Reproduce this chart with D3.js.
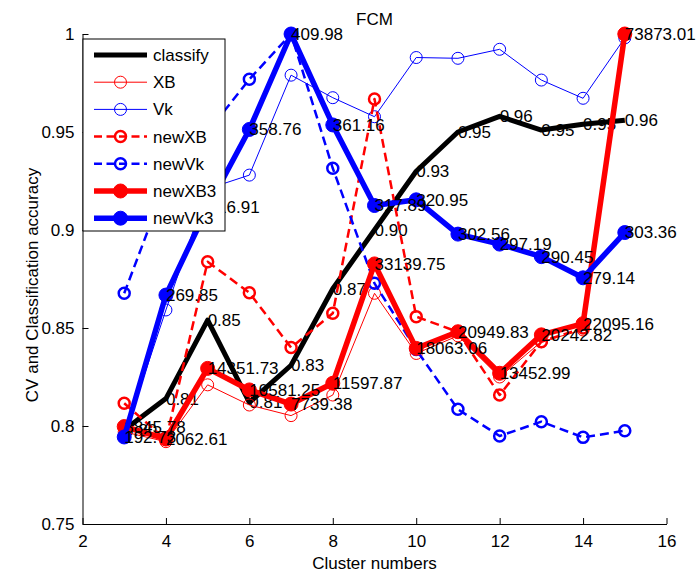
<!DOCTYPE html>
<html>
<head>
<meta charset="utf-8">
<script src="https://cdn.jsdelivr.net/npm/d3@7"></script>
<style>
  body { margin: 0; background: #fff; }
  text { font-family: "Liberation Sans", Arial, sans-serif; }
  .axis text { font-size: 17px; fill: #000; }
  .axis path, .axis line { stroke: #000; }
  .label { font-size: 17px; fill: #000; }
</style>
</head>
<body>
<div class="chart"></div>
<script>
var width = 696
var height = 573

var clusters = [3, 4, 5, 6, 7, 8, 9, 10, 11, 12, 13, 14, 15];

var classify = [0.798, 0.814, 0.854, 0.812, 0.831, 0.870, 0.900, 0.930, 0.950, 0.958, 0.951, 0.954, 0.956];
var classifyLabels = ["0.80", "0.81", "0.85", "0.81", "0.83", "0.87", "0.90", "0.93", "0.95", "0.96", "0.95", "0.95", "0.96"];

var xb = [0.797, 0.792, 0.821, 0.8107, 0.8053, 0.8158, 0.8677, 0.837, 0.846, 0.825, 0.843, 0.849, 1.0];
var vk = [0.795, 0.8592, 0.921, 0.928, 0.979, 0.9675, 0.9578, 0.988, 0.9876, 0.9922, 0.9765, 0.9672, 0.998];
var newXB = [0.8116, 0.793, 0.8838, 0.868, 0.840, 0.8575, 0.9668, 0.8558, 0.848, 0.8158, 0.843, 0.850, 1.0];
var newVk = [0.8677, 0.924, 0.95, 0.9769, 1.0, 0.9315, 0.8728, 0.839, 0.8085, 0.7949, 0.8022, 0.7942, 0.7976];

var newXB3 = [0.7997, 0.7935, 0.8294, 0.8184, 0.8112, 0.8218, 0.8827, 0.8396, 0.8481, 0.8269, 0.8465, 0.8522, 1.0];
var newXB3Labels = ["3845.78", "2062.61", "14351.73", "10581.25", "7739.38", "11597.87", "33139.75", "18063.06", "20949.83", "13452.99", "20242.82", "22095.16", "73873.01"];

var newVk3 = [0.7944, 0.8668, 0.9115, 0.9513, 1.0, 0.9536, 0.9125, 0.9154, 0.8979, 0.8928, 0.8864, 0.8756, 0.8987];
var newVk3Labels = ["192.73", "269.85", "316.91", "358.76", "409.98", "361.16", "317.89", "320.95", "302.56", "297.19", "290.45", "279.14", "303.36"];

var xTicks = [2, 4, 6, 8, 10, 12, 14, 16];
var yTicks = [0.75, 0.8, 0.85, 0.9, 0.95, 1];

// line styles, in the order they were plotted
var series = [
  { name: "classify", values: classify, color: "black", width: 5, dash: null, marker: "none", labels: classifyLabels },
  { name: "XB", values: xb, color: "red", width: 1, dash: null, marker: "open", r: 6, mw: 1 },
  { name: "Vk", values: vk, color: "blue", width: 1, dash: null, marker: "open", r: 6, mw: 1 },
  { name: "newXB", values: newXB, color: "red", width: 2.5, dash: "9,5", marker: "open", r: 5.5, mw: 2.5 },
  { name: "newVk", values: newVk, color: "blue", width: 2.5, dash: "9,5", marker: "open", r: 5.5, mw: 2.5 },
  { name: "newXB3", values: newXB3, color: "red", width: 5.5, dash: null, marker: "filled", r: 7, labels: newXB3Labels },
  { name: "newVk3", values: newVk3, color: "blue", width: 5.5, dash: null, marker: "filled", r: 7, labels: newVk3Labels }
];

var x = d3.scaleLinear().domain([2, 16]).range([82.5, 666.5]);
var y = d3.scaleLinear().domain([0.75, 1]).range([524, 34]);

var svg = d3.select(".chart").append("svg")
            .attr("width", width)
            .attr("height", height);

var xAxis = svg.append("g")
               .attr("class", "axis")
               .attr("transform", "translate(0," + y(0.75) + ")")
               .call(d3.axisBottom(x).tickValues(xTicks).tickSizeInner(-6).tickSizeOuter(0).tickPadding(11));

var yAxis = svg.append("g")
               .attr("class", "axis")
               .attr("transform", "translate(" + x(2) + ",0)")
               .call(d3.axisLeft(y).tickValues(yTicks).tickFormat(d3.format("~g")).tickSizeInner(-6).tickSizeOuter(0).tickPadding(8));

var line = d3.line()
             .x(function(d) { return x(d[0]); })
             .y(function(d) { return y(d[1]); });

series.forEach(function(s) {
  var pts = clusters.map(function(c, i) { return [c, s.values[i]]; });

  svg.append("path")
     .datum(pts)
     .attr("d", line)
     .attr("fill", "none")
     .attr("stroke", s.color)
     .attr("stroke-width", s.width)
     .attr("stroke-linejoin", "round")
     .attr("stroke-dasharray", s.dash);

  if (s.marker != "none") {
    svg.selectAll(null)
       .data(pts)
       .enter()
       .append("circle")
       .attr("cx", function(d) { return x(d[0]); })
       .attr("cy", function(d) { return y(d[1]); })
       .attr("r", s.r)
       .attr("fill", s.marker == "filled" ? s.color : "none")
       .attr("stroke", s.color)
       .attr("stroke-width", s.marker == "filled" ? 1 : s.mw);
  }

  if (s.labels) {
    svg.selectAll(null)
       .data(pts)
       .enter()
       .append("text")
       .attr("class", "label")
       .attr("x", function(d) { return x(d[0]); })
       .attr("y", function(d) { return y(d[1]); })
       .attr("dy", "0.35em")
       .text(function(d, i) { return s.labels[i]; });
  }
});

var title = svg.append("text")
               .attr("x", (x(2) + x(16)) / 2)
               .attr("y", 25)
               .attr("text-anchor", "middle")
               .style("font-size", "17px")
               .text("FCM");

var xAxisLabel = svg.append("text")
                    .attr("x", (x(2) + x(16)) / 2)
                    .attr("y", 569)
                    .attr("text-anchor", "middle")
                    .style("font-size", "17px")
                    .text("Cluster numbers");

var yAxisLabel = svg.append("text")
                    .attr("transform", "translate(38," + (y(0.875) + 6) + ") rotate(-90)")
                    .attr("text-anchor", "middle")
                    .style("font-size", "17px")
                    .text("CV and Classification accuracy");

// legend box in the top left corner
var legend = svg.append("g");

legend.append("rect")
      .attr("x", 83)
      .attr("y", 39)
      .attr("width", 142)
      .attr("height", 192)
      .attr("fill", "white")
      .attr("stroke", "black")
      .attr("stroke-width", 1);

var rows = legend.selectAll("g")
                 .data(series)
                 .enter()
                 .append("g")
                 .attr("transform", function(d, i) { return "translate(0," + (55 + i * 27.2) + ")"; });

rows.append("line")
    .attr("x1", 94)
    .attr("x2", 147)
    .attr("stroke", function(d) { return d.color; })
    .attr("stroke-width", function(d) { return d.width; })
    .attr("stroke-dasharray", function(d) { return d.dash ? "8,4.5" : null; });

rows.filter(function(d) { return d.marker != "none"; })
    .append("circle")
    .attr("cx", 120.5)
    .attr("r", function(d) { return d.r; })
    .attr("fill", function(d) { return d.marker == "filled" ? d.color : "white"; })
    .attr("fill-opacity", function(d) { return d.marker == "filled" ? 1 : 0; })
    .attr("stroke", function(d) { return d.color; })
    .attr("stroke-width", function(d) { return d.marker == "filled" ? 1 : d.mw; });

rows.append("text")
    .attr("x", 153)
    .attr("dy", "0.35em")
    .style("font-size", "17px")
    .text(function(d) { return d.name; });
</script>
</body>
</html>
